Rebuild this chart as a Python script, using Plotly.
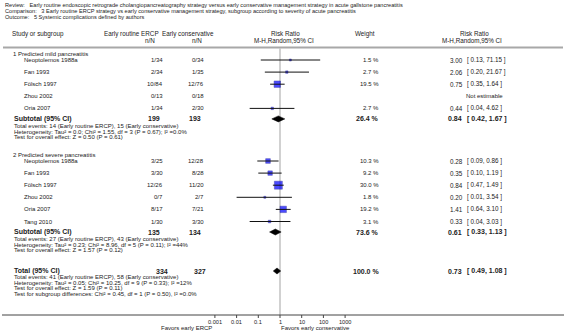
import math
import plotly.graph_objects as go

# ---------------- data ----------------
review = "Review:   Early routine endoscopic retrograde cholangiopancreatography strategy versus early conservative management strategy in acute gallstone pancreatitis"
comparison = "Comparison:   3 Early routine ERCP strategy vs early conservative management strategy, subgroup according to severity of acute pancreatitis"
outcome = "Outcome:   5 Systemic complications defined by authors"

group_names = ["1 Predicted mild pancreatitis", "2 Predicted severe pancreatitis"]
studies = [["Neoptolemos 1988a", "Fan 1993", "Fölsch 1997", "Zhou 2002", "Oria 2007"],
           ["Neoptolemos 1988a", "Fan 1993", "Fölsch 1997", "Zhou 2002", "Oria 2007", "Tang 2010"]]
ercp_nN = [["1/34", "2/34", "10/84", "0/13", "1/34"],
           ["3/25", "3/30", "12/26", "0/7", "8/17", "1/30"]]
cons_nN = [["0/34", "1/35", "12/76", "0/18", "2/30"],
           ["12/28", "8/28", "11/20", "2/7", "7/21", "3/30"]]
rr = [[3.00, 2.06, 0.75, None, 0.44],
      [0.28, 0.35, 0.84, 0.20, 1.41, 0.33]]
rr_lo = [[0.13, 0.20, 0.35, None, 0.04],
         [0.09, 0.10, 0.47, 0.01, 0.64, 0.04]]
rr_hi = [[71.15, 21.67, 1.64, None, 4.62],
         [0.86, 1.19, 1.49, 3.54, 3.10, 3.03]]
weights = [[1.5, 2.7, 19.5, None, 2.7],
           [10.3, 9.2, 30.0, 1.8, 19.2, 3.1]]

sub_n_ercp = [199, 135]
sub_n_cons = [193, 134]
sub_weight = [26.4, 73.6]
sub_rr = [0.84, 0.61]
sub_lo = [0.42, 0.33]
sub_hi = [1.67, 1.13]
sub_stats = [
    ["Total events: 14 (Early routine ERCP), 15 (Early conservative)",
     "Heterogeneity: Tau² = 0.0; Chi² = 1.55, df = 3 (P = 0.67); I² =0.0%",
     "Test for overall effect: Z = 0.50 (P = 0.61)"],
    ["Total events: 27 (Early routine ERCP), 43 (Early conservative)",
     "Heterogeneity: Tau² = 0.23; Chi² = 8.96, df = 5 (P = 0.11); I² =44%",
     "Test for overall effect: Z = 1.57 (P = 0.12)"],
]
total_n_ercp = 334
total_n_cons = 327
total_weight = 100.0
total_rr = 0.73
total_lo = 0.49
total_hi = 1.08
total_stats = ["Total events: 41 (Early routine ERCP), 58 (Early conservative)",
               "Heterogeneity: Tau² = 0.05; Chi² = 10.25, df = 9 (P = 0.33); I² =12%",
               "Test for overall effect: Z = 1.59 (P = 0.11)",
               "Test for subgroup differences: Chi² = 0.45, df = 1 (P = 0.50), I² =0.0%"]
tick_vals = [0.001, 0.01, 0.1, 1, 10, 100, 1000]
tick_text = ["0.001", "0.01", "0.1", "1", "10", "100", "1000"]
favors_left = "Favors early ERCP"
favors_right = "Favors early conservative"

# ---------------- layout constants ----------------
W, H = 566, 332
FONT = "Liberation Sans, Arial, sans-serif"
FS = 6.0       # study rows
FS_HDR = 5.6   # review/comparison/outcome lines
FS_COL = 6.3   # column headings
FS_STAT = 6.0  # summary statistics lines
FS_RR = 6.3    # effect estimates
FSB = 7.0
TXT = "#222222"
X_ONE = 280.0          # pixel of RR = 1
DEC = 21.7             # pixels per decade
AXIS_Y = 315

fig = go.Figure()
fig.add_trace(go.Scatter(x=[0], y=[0], mode="markers", marker=dict(opacity=0),
                         xaxis="x", yaxis="y", hoverinfo="skip"))


def txt(x, y, s, anchor="left", size=FS, bold=False, color=TXT, xref="x"):
    fig.add_annotation(x=x, y=y, xref=xref, yref="y",
                       text=f"<b>{s}</b>" if bold else s, showarrow=False,
                       xanchor=anchor, yanchor="middle", borderpad=0,
                       font=dict(size=size, color=color, family=FONT))


def rr_text(y, est, lo, hi, bold=False):
    size = FSB if bold else FS_RR
    txt(465, y, f"{est:.2f} ", "right", size, bold)
    txt(465.5, y, f"[ {lo:.2f}, {hi:.2f} ]", "left", size, bold)


# header
txt(4, 4.5, review, size=FS_HDR)
txt(4, 10.8, comparison, size=FS_HDR)
txt(4, 17, outcome, size=FS_HDR)

txt(11, 33.5, "Study or subgroup", size=FS_COL)
txt(131, 33.5, "Early routine ERCP", "center", FS_COL)
txt(150, 40.5, "n/N", "center", FS_COL)
txt(188, 33.5, "Early conservative", "center", FS_COL)
txt(197, 40.5, "n/N", "center", FS_COL)
txt(285, 33.5, "Risk Ratio", "center", FS_COL)
txt(284, 40.5, "M-H,Random,95% CI", "center", FS_COL)
txt(364.5, 33.5, "Weight", "center", FS_COL)
txt(474.5, 33.5, "Risk Ratio", "center", FS_COL)
txt(472, 40.5, "M-H,Random,95% CI", "center", FS_COL)

fig.add_shape(type="line", xref="x", yref="y", x0=3, x1=563, y0=47.5, y1=47.5,
              line=dict(color="#a8a8a8", width=2))

# rows
group_label_y = [53.5, 155]
first_study_y = [60, 161]
row_step = 12.1

ci_x, ci_y = [], []
sq_x, sq_y, sq_s = [], [], []
diamonds = []

for g in range(2):
    txt(12, group_label_y[g], group_names[g])
    y = first_study_y[g]
    for i, name in enumerate(studies[g]):
        yy = y + i * row_step
        txt(23, yy, name)
        txt(164, yy, ercp_nN[g][i], "right")
        txt(204.5, yy, cons_nN[g][i], "right")
        if rr[g][i] is None:
            txt(465, yy, "Not estimable", "left")
            continue
        txt(380, yy, f"{weights[g][i]:.1f} %", "right")
        rr_text(yy, rr[g][i], rr_lo[g][i], rr_hi[g][i])
        ci_x += [rr_lo[g][i], rr_hi[g][i], None]
        ci_y += [yy, yy, None]
        sq_x.append(rr[g][i])
        sq_y.append(yy)
        sq_s.append(max(2.0, 8.0 * math.sqrt(weights[g][i] / 30.0)))
    last_y = y + (len(studies[g]) - 1) * row_step
    sy = last_y + 10.5
    txt(12.5, sy, "Subtotal (95% CI)", bold=True, size=FSB)
    txt(161, sy, str(sub_n_ercp[g]), "right", FSB, True)
    txt(202, sy, str(sub_n_cons[g]), "right", FSB, True)
    txt(380, sy, f"{sub_weight[g]:.1f} %", "right", FSB, True)
    rr_text(sy, sub_rr[g], sub_lo[g], sub_hi[g], bold=True)
    diamonds.append((sy, sub_rr[g], sub_lo[g], sub_hi[g]))
    for k, s in enumerate(sub_stats[g]):
        txt(12.5, sy + 7 + k * 5.7, s, size=FS_STAT)

ty = 271
txt(12.5, ty, "Total (95% CI)", bold=True, size=FSB)
txt(169, ty, str(total_n_ercp), "right", FSB, True)
txt(207, ty, str(total_n_cons), "right", FSB, True)
txt(380, ty, f"{total_weight:.1f} %", "right", FSB, True)
rr_text(ty, total_rr, total_lo, total_hi, bold=True)
diamonds.append((ty, total_rr, total_lo, total_hi))
for k, s in enumerate(total_stats):
    txt(12.5, ty + 6.3 + k * 5.5, s, size=FS_STAT)

# forest plot marks on log axis
fig.add_trace(go.Scatter(x=[1, 1], y=[48.5, AXIS_Y], mode="lines",
                         line=dict(color="#cccccc", width=1.8),
                         xaxis="x2", yaxis="y", hoverinfo="skip"))
fig.add_trace(go.Scatter(x=sq_x, y=sq_y, mode="markers",
                         marker=dict(symbol="square", size=sq_s, color="#0000ff",
                                     line=dict(color="#00008b", width=0.5)),
                         xaxis="x2", yaxis="y", hoverinfo="skip"))
fig.add_trace(go.Scatter(x=ci_x, y=ci_y, mode="lines",
                         line=dict(color="#111111", width=1),
                         xaxis="x2", yaxis="y", hoverinfo="skip"))
for (dy, est, lo, hi) in diamonds:
    fig.add_trace(go.Scatter(x=[lo, est, hi, est, lo], y=[dy, dy - 3, dy, dy + 3, dy],
                             mode="lines", fill="toself", fillcolor="#000000",
                             line=dict(color="#000000", width=0.5),
                             xaxis="x2", yaxis="y", hoverinfo="skip"))

# bottom axis: line, tick marks and labels
fig.add_shape(type="line", xref="x", yref="y", x0=2, x1=564, y0=AXIS_Y, y1=AXIS_Y,
              line=dict(color="#444444", width=1))
tx, tyy = [], []
for v in tick_vals:
    tx += [v, v, None]
    tyy += [AXIS_Y, AXIS_Y + 3, None]
fig.add_trace(go.Scatter(x=tx, y=tyy, mode="lines", line=dict(color="#444444", width=1),
                         xaxis="x2", yaxis="y", hoverinfo="skip"))
for v, t in zip(tick_vals, tick_text):
    txt(math.log10(v), AXIS_Y + 6.5, t, "center", 5.6, xref="x2")
txt(213, AXIS_Y + 12.5, favors_left, "right", FS)
txt(280, AXIS_Y + 12.5, favors_right, "left", FS)

d0 = (X_ONE - 4 * DEC) / W
d1 = (X_ONE + 4 * DEC) / W
fig.update_layout(
    width=W, height=H, margin=dict(l=0, r=0, t=0, b=0),
    paper_bgcolor="white", plot_bgcolor="rgba(0,0,0,0)", showlegend=False,
    xaxis=dict(range=[0, W], domain=[0, 1], visible=False, fixedrange=True),
    yaxis=dict(range=[H, 0], domain=[0, 1], visible=False, fixedrange=True),
    xaxis2=dict(type="log", range=[-4, 4], domain=[d0, d1], anchor="y",
                visible=False, fixedrange=True),
)

fig.write_html("out.html", config={"staticPlot": True},
               post_script="document.body.style.margin='0';document.body.style.overflow='hidden';")
